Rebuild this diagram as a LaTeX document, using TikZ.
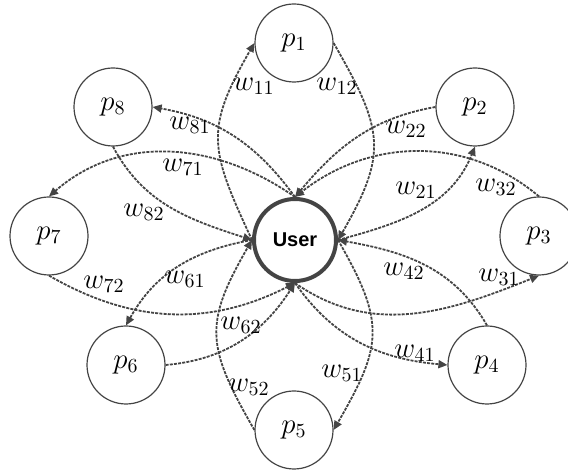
\documentclass[tikz,border=0pt]{standalone}
\usepackage{amsmath}
\usepackage{fontspec}
\newfontfamily\userfont{Liberation Sans}
\usetikzlibrary{arrows.meta}
\definecolor{edgegray}{HTML}{444444}

\begin{document}
\begin{tikzpicture}[x=0.5pt,y=0.5pt,
    peer/.style={draw=edgegray,circle,line width=0.6pt,minimum size=39pt,inner sep=0pt,font=\Large},
    usr/.style={draw=edgegray,circle,line width=2pt,minimum size=41pt,inner sep=0pt,font=\userfont\bfseries\fontsize{10}{12}\selectfont},
    link/.style={-{Triangle[length=4.5pt,width=4pt]},draw=edgegray,line width=0.9pt,dash pattern=on 1.5pt off 0.6pt},
    wt/.style={font=\Large,inner sep=0pt}]
    \useasboundingbox (0,0) rectangle (568,471);

    % user and peers
    \node[usr] (user) at (295,231) {User};
    \node[peer] (p1) at (294,428) {$p_1$};
    \node[peer] (p2) at (475,364) {$p_2$};
    \node[peer] (p3) at (539,235) {$p_3$};
    \node[peer] (p4) at (487,106) {$p_4$};
    \node[peer] (p5) at (294,41) {$p_5$};
    \node[peer] (p6) at (126,106) {$p_6$};
    \node[peer] (p7) at (49,235) {$p_7$};
    \node[peer] (p8) at (113,364) {$p_8$};

    % links
    \draw[link] (user.west) to[out=115,in=240,looseness=1.3] (p1.west);
    \draw[link] (p1.east) to[out=-60,in=60,looseness=1.3] (user.east);
    \draw[link] (user.east) to[out=15,in=248] (p2.south);
    \draw[link] (p2.west) to[out=190,in=50] (user.north);
    \draw[link] (user.south) to[out=-35,in=202] (p3.south);
    \draw[link] (p3.north) to[out=140,in=38] (user.north);
    \draw[link] (user.south) to[out=-55,in=175] (p4.west);
    \draw[link] (p4.north) to[out=120,in=350] (user.east);
    \draw[link] (user.east) to[out=-60,in=60,looseness=1.3] (p5.east);
    \draw[link] (p5.west) to[out=120,in=240,looseness=1.3] (user.west);
    \draw[link] (user.west) to[out=190,in=61] (p6.north);
    \draw[link] (p6.east) to[out=5,in=237] (user.south);
    \draw[link] (user.north) to[out=145,in=41] (p7.north);
    \draw[link] (p7.south) to[out=-30,in=207] (user.south);
    \draw[link] (user.north) to[out=126,in=-10] (p8.east);
    \draw[link] (p8.south) to[out=-62,in=162] (user.west);

    % weights
    \node[wt] (w11) at (254,385) {$w_{11}$};
    \node[wt] (w12) at (337,385) {$w_{12}$};
    \node[wt] (w21) at (416,281) {$w_{21}$};
    \node[wt] (w22) at (406,342) {$w_{22}$};
    \node[wt] (w31) at (499,194) {$w_{31}$};
    \node[wt] (w32) at (496,284) {$w_{32}$};
    \node[wt] (w41) at (415,118) {$w_{41}$};
    \node[wt] (w42) at (404,200) {$w_{42}$};
    \node[wt] (w51) at (342,98) {$w_{51}$};
    \node[wt] (w52) at (249,84) {$w_{52}$};
    \node[wt] (w61) at (185,192) {$w_{61}$};
    \node[wt] (w62) at (241,146) {$w_{62}$};
    \node[wt] (w71) at (183,304) {$w_{71}$};
    \node[wt] (w72) at (104,187) {$w_{72}$};
    \node[wt] (w81) at (190,346) {$w_{81}$};
    \node[wt] (w82) at (144,259) {$w_{82}$};
\end{tikzpicture}
\end{document}
